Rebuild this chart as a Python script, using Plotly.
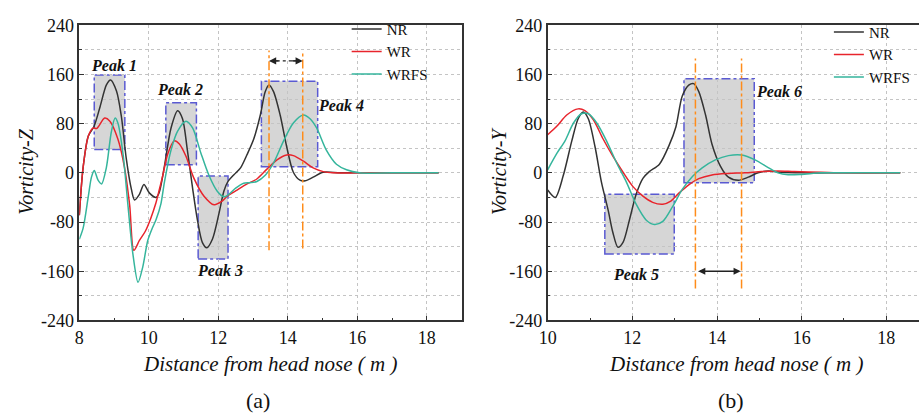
import plotly.graph_objects as go

# ---------------- Panel (a): Vorticity-Z ----------------
a_nr_x = [8.0, 8.11, 8.26, 8.42, 8.6, 8.78, 8.9, 9.07, 9.21, 9.35, 9.5, 9.59, 9.73, 9.86, 10.02, 10.21,
          10.3, 10.45, 10.64, 10.83, 10.97, 11.11, 11.26, 11.4, 11.54, 11.67, 11.83, 12.02, 12.16, 12.28,
          12.45, 12.64, 12.83, 13.02, 13.21, 13.35, 13.46, 13.59, 13.78, 13.97, 14.16, 14.35, 14.5, 14.73,
          15.02, 15.5, 16.0, 17.0, 18.34]
a_nr_y = [-69, 9, 60, 75, 108, 143, 151, 133, 92, 24, -27, -44, -35, -19, -33, -40,
          -32, 11, 73, 101, 88, 37, -25, -77, -113, -122, -108, -66, -30, -14,
          -3, 8, 30, 55, 94, 132, 143, 132, 94, 42, 1, -12, -13, -7,
          1, 0, 0, 0, 0]

a_wr_x = [8.0, 8.11, 8.26, 8.4, 8.5, 8.73, 8.88, 9.11, 9.3, 9.45, 9.57, 9.73, 9.9, 10.05, 10.2, 10.3,
          10.4, 10.54, 10.73, 10.88, 11.07, 11.3, 11.59, 11.88, 12.11, 12.26, 12.54, 12.83, 13.11, 13.4,
          13.69, 13.97, 14.16, 14.45, 14.73, 15.02, 15.3, 16.0, 17.0, 18.34]
a_wr_y = [-69, 9, 60, 73, 72, 89, 84, 55, 9, -53, -126, -110, -95, -75, -50, -28,
          -5, 30, 52, 47, 27, -9, -38, -52, -46, -38, -28, -18, -10, 6,
          21, 29, 28, 19, 8, 2, 0, 0, 0, 0]

a_wrfs_x = [8.0, 8.11, 8.26, 8.35, 8.43, 8.54, 8.64, 8.78, 8.92, 9.03, 9.11, 9.26, 9.4, 9.54, 9.69, 9.83,
            9.97, 10.1, 10.21, 10.35, 10.45, 10.64, 10.83, 11.07, 11.26, 11.5, 11.73, 11.97, 12.16, 12.3,
            12.5, 12.73, 12.9, 13.11, 13.35, 13.59, 13.88, 14.16, 14.45, 14.64, 14.83, 15.11, 15.4, 15.69,
            16.07, 17.0, 18.34]
a_wrfs_y = [-108, -90, -38, -7, 4, -12, -18, 9, 66, 89, 81, 30, -53, -131, -178, -152,
            -110, -90, -76, -50, -15, 37, 68, 84, 73, 32, -4, -30, -39, -35,
            -25, -17, -16, -14, -4, 16, 52, 81, 94, 88, 73, 37, 14, 5,
            0, 0, 0]

# ---------------- Panel (b): Vorticity-Y ----------------
b_nr_x = [10.0, 10.18, 10.37, 10.57, 10.72, 10.84, 10.96, 11.12, 11.27, 11.43, 11.54, 11.66, 11.78, 11.93,
          12.09, 12.25, 12.4, 12.64, 12.87, 13.03, 13.18, 13.34, 13.45, 13.57, 13.73, 13.88, 14.08, 14.27,
          14.51, 14.74, 14.97, 15.21, 15.52, 16.0, 17.0, 18.33]
b_nr_y = [-28, -40, -4, 52, 88, 99, 88, 42, -15, -61, -97, -121, -113, -77,
          -35, -9, 2, 14, 45, 75, 125, 143, 145, 132, 94, 47, 11, -7,
          -12, -7, 0, 3, 1, 0, 0, 0]

b_wr_x = [10.0, 10.22, 10.45, 10.72, 10.88, 11.08, 11.31, 11.54, 11.78, 12.01, 12.25, 12.48, 12.72, 12.91,
          13.1, 13.34, 13.57, 13.88, 14.27, 14.66, 15.05, 15.44, 15.83, 16.46, 17.0, 18.33]
b_wr_y = [62, 76, 94, 104, 101, 86, 55, 27, 1, -22, -38, -48, -51, -46,
          -33, -19, -9.5, -3.4, -1, 0, 2, 3, 2, 1, 0, 0]

b_wrfs_x = [10.0, 10.22, 10.41, 10.61, 10.8, 10.96, 11.16, 11.39, 11.63, 11.86, 12.09, 12.33, 12.52, 12.72,
            12.95, 13.18, 13.42, 13.65, 13.96, 14.27, 14.58, 14.9, 15.21, 15.44, 15.68, 15.99, 16.46, 17.0, 18.33]
b_wrfs_y = [5, 32, 52, 81, 96, 96, 81, 52, 16, -15, -51, -77, -84, -79,
            -55, -27, -6, 8, 21, 28, 29, 21, 8.5, 0, -3, -2.5, 0, 0, 0]

series_names = ["NR", "WR", "WRFS"]
y_ticks = [-240, -160, -80, 0, 80, 160, 240]
y_ticklabels = ["-240", "-160", "-80", "0", "80", "160", "240"]
y_minor = [-200, -120, -40, 40, 120, 200]
a_x_ticks = [8, 10, 12, 14, 16, 18]
a_x_minor = [9, 11, 13, 15, 17]
b_x_ticks = [10, 12, 14, 16, 18]
b_x_minor = [11, 13, 15, 17]

# peak boxes: (x0, x1, y0, y1)
a_boxes = [(8.43, 9.31, 38, 159), (10.49, 11.37, 13, 114), (11.42, 12.28, -140, -5), (13.24, 14.86, 10, 149)]
b_boxes = [(11.35, 12.99, -132, -35), (13.22, 14.88, -16, 153)]
a_peak_labels = [("Peak 1", 8.99, 174), ("Peak 2", 10.91, 136), ("Peak 3", 12.04, -159), ("Peak 4", 15.53, 109)]
b_peak_labels = [("Peak 5", 12.08, -165), ("Peak 6", 15.46, 132)]
a_vlines = [(13.46, -126, 199), (14.43, -123, 199)]
b_vlines = [(13.49, -188, 186), (14.58, -188, 186)]
a_arrow = (13.46, 14.43, 182)
b_arrow = (13.52, 14.56, -160)

colors = ["#333333", "#e8242c", "#35b59c"]
W, H = 919, 419
FONT = "Liberation Serif, Times New Roman, serif"

fig = go.Figure()
for xs, ys, name, c in zip([a_nr_x, a_wr_x, a_wrfs_x], [a_nr_y, a_wr_y, a_wrfs_y], series_names, colors):
    fig.add_trace(go.Scatter(x=xs, y=ys, name=name, mode="lines",
                             line=dict(color=c, width=1.5, shape="spline", smoothing=0.8),
                             xaxis="x", yaxis="y", legend="legend"))
for xs, ys, name, c in zip([b_nr_x, b_wr_x, b_wrfs_x], [b_nr_y, b_wr_y, b_wrfs_y], series_names, colors):
    fig.add_trace(go.Scatter(x=xs, y=ys, name=name, mode="lines",
                             line=dict(color=c, width=1.5, shape="spline", smoothing=0.8),
                             xaxis="x2", yaxis="y2", legend="legend2"))

shapes = []
for (boxes, xr, yr) in [(a_boxes, "x", "y"), (b_boxes, "x2", "y2")]:
    for (x0, x1, y0, y1) in boxes:
        shapes.append(dict(type="rect", xref=xr, yref=yr, x0=x0, x1=x1, y0=y0, y1=y1,
                           fillcolor="rgba(200,200,200,0.75)", layer="below",
                           line=dict(color="#5a5ad2", width=1.5, dash="dashdot")))
for (vl, xr, yr) in [(a_vlines, "x", "y"), (b_vlines, "x2", "y2")]:
    for (xv, y0, y1) in vl:
        shapes.append(dict(type="line", xref=xr, yref=yr, x0=xv, x1=xv, y0=y0, y1=y1,
                           line=dict(color="#ff8c1a", width=1.5, dash="dashdot")))
# dash-dot arrow shaft in panel (a)
shapes.append(dict(type="line", xref="x", yref="y", x0=a_arrow[0] + 0.05, x1=a_arrow[1] - 0.05,
                   y0=a_arrow[2], y1=a_arrow[2], line=dict(color="#222222", width=1.3, dash="dashdot")))

annotations = []
for (labels, xr, yr) in [(a_peak_labels, "x", "y"), (b_peak_labels, "x2", "y2")]:
    for (t, xv, yv) in labels:
        annotations.append(dict(text=t, x=xv, y=yv, xref=xr, yref=yr, showarrow=False,
                                font=dict(family=FONT, size=16, color="#111111", style="italic",
                                          weight="bold")))
# arrowheads for panel (a) (tails given in pixels)
annotations.append(dict(x=a_arrow[0], y=a_arrow[2], ax=11, ay=0, xref="x", yref="y",
                        text="", showarrow=True, arrowhead=2, arrowsize=1.1,
                        arrowwidth=1.3, arrowcolor="#222222"))
annotations.append(dict(x=a_arrow[1], y=a_arrow[2], ax=-11, ay=0, xref="x", yref="y",
                        text="", showarrow=True, arrowhead=2, arrowsize=1.1,
                        arrowwidth=1.3, arrowcolor="#222222"))
annotations.append(dict(x=b_arrow[1], y=b_arrow[2], ax=b_arrow[0], ay=b_arrow[2], xref="x2", yref="y2",
                        axref="x2", ayref="y2", text="", showarrow=True, arrowhead=2, arrowsize=1.1,
                        arrowside="end+start", arrowwidth=1.3, arrowcolor="#222222"))
# axis titles & panel labels
for (t, px, py) in [("Distance from head nose ( m )", 264, 372),
                    ("Distance from head nose ( m )", 735, 372)]:
    annotations.append(dict(text=t, x=px / W, y=1 - py / H, xref="paper", yref="paper", showarrow=False,
                            xanchor="center", yanchor="middle",
                            font=dict(family=FONT, size=21, color="#111111", style="italic")))
for (t, px, py) in [("Vorticity-Z", 18, 170), ("Vorticity-Y", 496, 170)]:
    annotations.append(dict(text=t, x=px / W, y=1 - py / H, xref="paper", yref="paper", showarrow=False,
                            textangle=-90, xanchor="center", yanchor="middle",
                            font=dict(family=FONT, size=20, color="#111111", style="italic")))
for (t, px, py) in [("(a)", 251, 410), ("(b)", 729, 410)]:
    annotations.append(dict(text=t, x=px / W, y=1 - py / H, xref="paper", yref="paper", showarrow=False,
                            xanchor="center", yanchor="middle", font=dict(family=FONT, size=22, color="#111111")))

tickfont = dict(family=FONT, size=18, color="#111111")
ydom = [1 - 326 / H, 1 - 16 / H]


def xaxis_cfg(dom, rng, ticks, minor):
    return dict(domain=dom, range=rng, tickmode="array", tickvals=ticks, ticks="inside", ticklen=5,
                tickwidth=1.2, tickcolor="#333333", showline=True, linecolor="#333333", linewidth=1.5,
                mirror=True, showgrid=True, gridcolor="#c4c4c4", griddash="dot", gridwidth=1,
                zeroline=False, tickfont=tickfont,
                minor=dict(tickvals=minor, ticks="inside", ticklen=3, tickcolor="#333333", showgrid=False))


def yaxis_cfg(anchor, mirror):
    return dict(domain=ydom, range=[-240, 240], anchor=anchor, tickmode="array", tickvals=y_ticks,
                ticktext=y_ticklabels, ticks="inside", ticklen=5, tickwidth=1.2, tickcolor="#333333",
                showline=True, linecolor="#333333", linewidth=1.5, mirror=mirror, showgrid=True,
                gridcolor="#c4c4c4", griddash="dot", gridwidth=1, zeroline=False, tickfont=tickfont,
                minor=dict(tickvals=y_minor, ticks="inside", ticklen=3, tickcolor="#333333", showgrid=True,
                           gridcolor="#c4c4c4", griddash="dot", gridwidth=1))


legend_common = dict(font=dict(family=FONT, size=15, color="#111111"), bgcolor="rgba(0,0,0,0)",
                     xanchor="left", yanchor="top", tracegroupgap=0, itemwidth=30,
                     xref="paper", yref="paper")

fig.update_layout(
    width=W, height=H, margin=dict(l=0, r=0, t=0, b=0),
    paper_bgcolor="white", plot_bgcolor="white",
    xaxis=xaxis_cfg([71 / W, 457 / W], [8, 19], a_x_ticks, a_x_minor) | dict(anchor="y"),
    yaxis=yaxis_cfg("x", True),
    xaxis2=xaxis_cfg([544 / W, 1.0], [10, 10 + 375 / 42.75], b_x_ticks, b_x_minor) | dict(anchor="y2"),
    yaxis2=yaxis_cfg("x2", False),
    legend=dict(x=341 / W, y=1 - 3 / H, **legend_common),
    legend2=dict(x=828 / W, y=1 - 6 / H, **legend_common),
    shapes=shapes, annotations=annotations,
)

fig.write_html("out.html")
